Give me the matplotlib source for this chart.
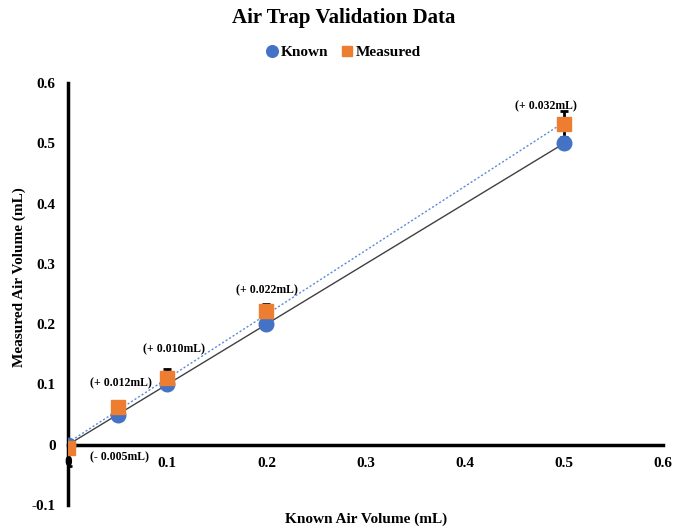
import matplotlib.pyplot as plt
import numpy as np

plt.rcParams['font.family'] = ['Liberation Serif', 'DejaVu Serif']
plt.rcParams['font.weight'] = 'bold'

# data
known_x = [0, 0.05, 0.1, 0.2, 0.5]
known_y = [0, 0.05, 0.1, 0.2, 0.5]
measured_y = [-0.005, 0.062, 0.11, 0.222, 0.532]
err_lower = [0.03, 0.005, 0.015, 0.012, 0.022]
err_upper = [0.0, 0.005, 0.015, 0.012, 0.022]
diff_labels = ["(- 0.005mL)", "(+ 0.012mL)", "(+ 0.010mL)", "(+ 0.022mL)", "(+ 0.032mL)"]
label_offsets = [(51, -10), (3, 24), (7, 29), (0, 21), (-18, 18)]

x_ticks = [0.1, 0.2, 0.3, 0.4, 0.5, 0.6]
y_ticks = [-0.1, 0, 0.1, 0.2, 0.3, 0.4, 0.5, 0.6]

fig = plt.figure(figsize=(6.88, 5.26), dpi=100)
ax = fig.add_axes([0.099, 0.040, 0.865, 0.802])

# trendlines
xs = np.array([0, 0.5])
k_fit = np.polyfit(known_x, known_y, 1)
m_fit = np.polyfit(known_x, measured_y, 1)
ax.plot(xs, np.polyval(k_fit, xs), color='#404040', lw=1, zorder=2)
ax.plot(xs, np.polyval(m_fit, xs), color='#5b8bd8', lw=1, ls=(0, (1.5, 1.5)), zorder=2)

ax.errorbar(known_x, measured_y, yerr=[err_lower, err_upper], fmt='none', ecolor='black',
            elinewidth=2, capsize=3, capthick=2, zorder=3)
ax.plot(known_x, known_y, 'o', color='#4472C4', ms=10.5, label='Known', zorder=4)
ax.plot(known_x, measured_y, 's', color='#ED7D31', ms=9.5, label='Measured', zorder=5)

for x, y, lab, off in zip(known_x, measured_y, diff_labels, label_offsets):
    ax.annotate(lab, (x, y), xytext=off, textcoords='offset pixels',
                ha='center', va='center', fontsize=8.5, fontweight='bold')

ax.set_xlim(0, 0.6)
ax.set_ylim(-0.1, 0.6)
ax.spines['left'].set_position(('data', 0))
ax.spines['bottom'].set_position(('data', 0))
ax.spines['left'].set_linewidth(2.5)
ax.spines['bottom'].set_linewidth(2.5)
ax.spines['top'].set_visible(False)
ax.spines['right'].set_visible(False)

ax.set_xticks(x_ticks)
ax.set_xticklabels([f"{t:g}" for t in x_ticks])
ax.set_yticks(y_ticks)
ax.set_yticklabels([f"{t:g}" for t in y_ticks])
ax.tick_params(length=0, labelsize=11)
ax.tick_params(axis='y', pad=9)
ax.tick_params(axis='x', pad=9)
for lab in ax.get_xticklabels() + ax.get_yticklabels():
    lab.set_fontweight('bold')
ax.text(0, -0.03, "0", ha='center', va='center', fontsize=11, fontweight='bold')

ax.set_xlabel("Known Air Volume (mL)", fontsize=11, fontweight='bold')
ax.xaxis.set_label_coords(0.5, -0.018)
ax.set_ylabel("Measured Air Volume (mL)", fontsize=11, fontweight='bold')
ax.yaxis.set_label_coords(-0.07, 0.54)

fig.suptitle("Air Trap Validation Data", y=0.985, fontsize=15, fontweight='bold')
fig.legend(loc='center', bbox_to_anchor=(0.5, 0.901), ncol=2, frameon=False,
           handlelength=0.6, handletextpad=0.3, columnspacing=0.9, markerscale=0.8,
           prop={'weight': 'bold', 'size': 11})

fig.savefig('out.png', dpi=100)
